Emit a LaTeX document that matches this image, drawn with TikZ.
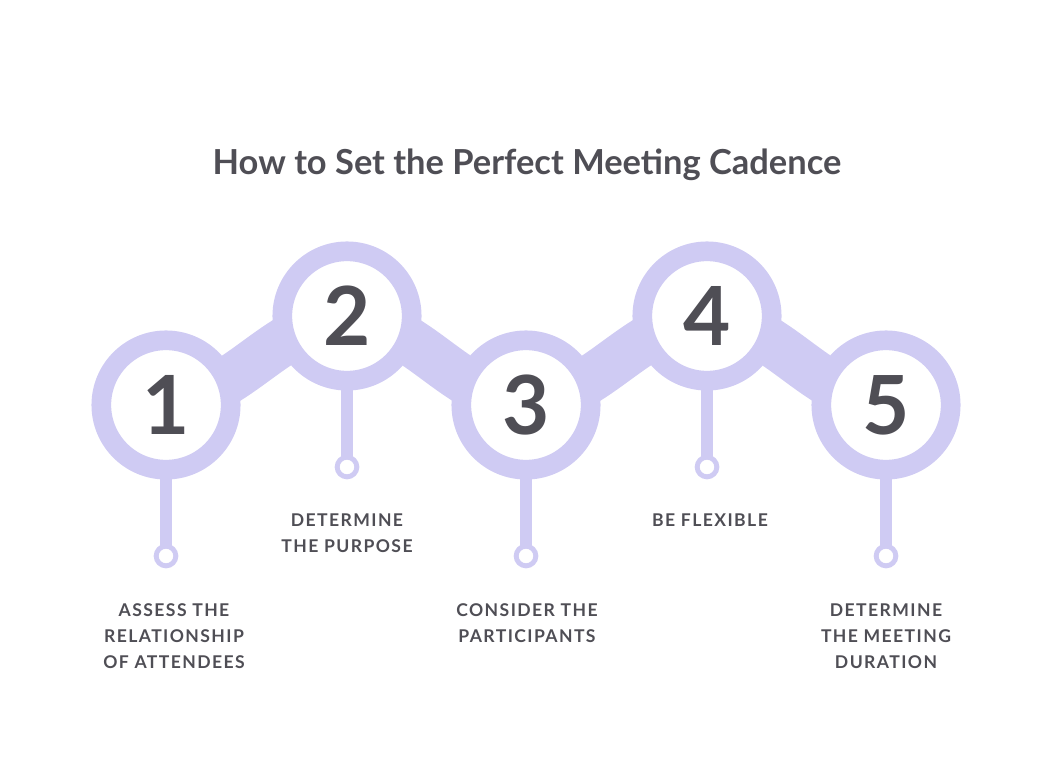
\documentclass[tikz,border=0pt]{standalone}
\usepackage{fontspec}
\setmainfont{Lato}
\usetikzlibrary{backgrounds}
\definecolor{lav}{HTML}{CFCBF3}
\definecolor{txt}{HTML}{4F4E55}
\tikzset{
  stage/.style={circle, fill=white, draw=lav, line width=14pt, minimum size=92pt, inner sep=0pt,
    font=\fontsize{58}{60}\selectfont\bfseries, text=txt},
  tip/.style={circle, fill=white, draw=lav, line width=3.5pt, minimum size=14pt, inner sep=0pt},
  lbl/.style={align=center, font=\fontsize{12.5}{18.5}\selectfont\bfseries\addfontfeatures{LetterSpace=8}, text=txt},
  band/.style={draw=lav, line width=34pt},
  stem/.style={draw=lav, line width=9pt}
}
\begin{document}
\begin{tikzpicture}[x=0.025cm, y=-0.025cm]
  \useasboundingbox (0,0) rectangle (1054,768);
  \node[font=\fontsize{24.5}{26}\selectfont\bfseries, text=txt] (title) at (527,165) {How to Set the Perfect Meeting Cadence};

  \node[stage] (c1) at (166,405) {1};
  \node[stage] (c2) at (347,316) {2};
  \node[stage] (c3) at (526,405) {3};
  \node[stage] (c4) at (707,316) {4};
  \node[stage] (c5) at (886,405) {5};

  \node[tip] (t1) at (166,556) {};
  \node[tip] (t2) at (347,467) {};
  \node[tip] (t3) at (526,556) {};
  \node[tip] (t4) at (707,467) {};
  \node[tip] (t5) at (886,556) {};

  \node[lbl] (l1) at (174,636) {ASSESS THE\\RELATIONSHIP\\OF ATTENDEES};
  \node[lbl] (l2) at (347,533) {DETERMINE\\THE PURPOSE};
  \node[lbl] (l3) at (527,623) {CONSIDER THE\\PARTICIPANTS};
  \node[lbl] (l4) at (710,520) {BE FLEXIBLE};
  \node[lbl] (l5) at (886,636) {DETERMINE\\THE MEETING\\DURATION};

  \begin{pgfonlayer}{background}
    \draw[band] (c1.center) to[out=10, in=190] (c2.center) to[out=-10, in=170] (c3.center)
      to[out=10, in=190] (c4.center) to[out=-10, in=170] (c5.center);
    \foreach \i in {1,...,5}
      \draw[stem] (c\i.center) -- (t\i.center);
  \end{pgfonlayer}
\end{tikzpicture}
\end{document}
